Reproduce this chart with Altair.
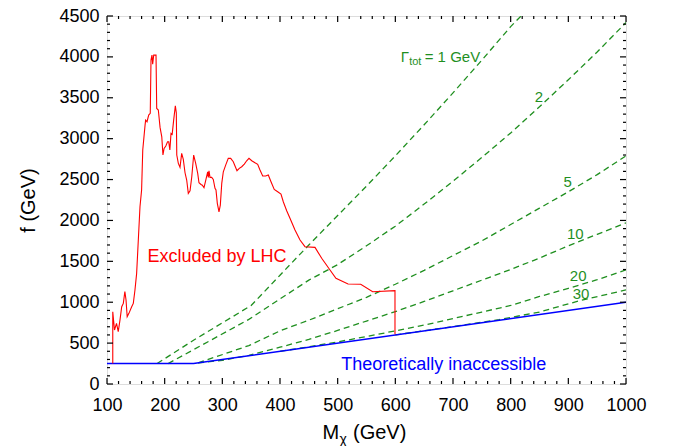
import altair as alt
import pandas as pd

# ---------------- data ----------------
# LHC exclusion contour (red)
red_M = [110, 110, 113, 116.5, 119.5, 122.5, 125.5, 128.3, 131, 133, 135, 138, 142.8, 145.6, 148.5,
         151.4, 154.3, 157.2, 160, 162, 166, 167, 169.4, 172.3, 175, 176.3, 178, 179.2, 181, 185,
         186.2, 189, 192, 195, 197, 199, 202, 205, 207, 209, 211, 213, 215.6, 218.5, 220.2, 221,
         223.7, 226.6, 229.5, 232.3, 235.3, 238.2, 241, 244, 247, 250.3, 253.8, 257.3, 259.5, 263,
         265.3, 268.2, 271, 274.6, 275.7, 276.9, 278.6, 281.5, 284.3, 287.3, 289, 291.3, 294.2,
         296.5, 299, 301.7, 305.8, 310.3, 314.5, 319, 322, 325.4, 329.4, 333.6, 338.1, 342.2,
         346.2, 351, 356.6, 361.3, 365.3, 370, 375.2, 379.7, 384.4, 390, 396, 401.7, 405.7, 411.6,
         417.3, 426, 434.7, 443.3, 460.7, 472.3, 486.7, 497, 518, 540, 560.7, 599.4, 599.4]
red_f = [250, 884, 660, 742, 640, 782, 945, 986, 1129, 1027, 823, 864, 945, 986, 1149,
         1353, 1760, 2167, 2372, 2861, 3166, 3227, 3207, 3289, 3309, 3961, 4022, 3912, 4022, 4022,
         3370, 3350, 3138, 3023, 2800, 2881, 2910, 2962, 2962, 2861, 3065, 3053, 3227, 3402, 3316, 2800,
         2698, 2649, 2820, 2747, 2583, 2494, 2331, 2363, 2534, 2800, 2698, 2576, 2461, 2440,
         2430, 2400, 2485, 2595, 2527, 2608, 2527, 2527, 2502, 2392, 2372, 2209, 2106,
         2188, 2453, 2595, 2677, 2759, 2759, 2718, 2665, 2608, 2637, 2657, 2689, 2730,
         2759, 2730, 2705, 2686, 2616, 2543, 2543, 2555, 2473, 2380, 2351, 2323, 2229, 2119,
         2026, 1883, 1760, 1679, 1671, 1537, 1394, 1292, 1222, 1219, 1128, 1141, 608]

# theoretical limit (blue)
blue_M = [100, 250, 1000]
blue_f = [250, 250, 1000]

# constant total-width contours (green dashed)
g1_M = [187, 250, 350, 400, 450, 500, 550, 600, 650, 700, 750, 800, 818]
g1_f = [250, 535, 960, 1330, 1700, 2060, 2420, 2790, 3170, 3560, 3960, 4370, 4500]
g2_M = [206, 346, 400, 450, 500, 550, 600, 650, 700, 750, 800, 850, 900, 950, 1000]
g2_f = [250, 790, 1040, 1270, 1460, 1690, 1930, 2200, 2480, 2770, 3070, 3390, 3720, 4060, 4420]
g5_M = [258, 346, 400, 450, 500, 550, 600, 650, 700, 750, 800, 850, 900, 950, 1000]
g5_f = [258, 470, 650, 780, 920, 1060, 1220, 1390, 1570, 1750, 1950, 2150, 2350, 2560, 2790]
g10_M = [258, 300, 346, 400, 450, 500, 550, 600, 650, 700, 750, 800, 850, 900, 950, 1000]
g10_f = [258, 290, 350, 450, 545, 655, 770, 885, 1010, 1140, 1270, 1400, 1540, 1690, 1830, 1970]
g20_M = [400, 450, 500, 550, 600, 650, 700, 750, 800, 850, 900, 950, 1000]
g20_f = [400, 455, 515, 580, 650, 720, 800, 880, 960, 1070, 1170, 1275, 1395]
g30_M = [600, 700, 780, 850, 920, 1000]
g30_f = [600, 702, 787, 880, 1020, 1150]

green_labels = ["2", "5", "10", "20", "30"]
green_label_M = [849, 899, 912, 917, 922]
green_label_f = [3451, 2412, 1769, 1263, 1035]

region_labels = ["Excluded by LHC", "Theoretically inaccessible"]
region_label_M = [290.7, 684]
region_label_f = [1495, 171]
region_colors = ["#ff0000", "#0000ff"]

x_major = list(range(100, 1001, 100))
x_minor = [v for v in range(100, 1001, 20) if v % 100 != 0]
y_major = list(range(0, 4501, 500))
y_minor = [v for v in range(0, 4501, 100) if v % 500 != 0]

# ---------------- layout ----------------
W, H = 519, 368
FONT = "Liberation Sans"
GREEN = "#1f8f1f"

xs = alt.Scale(domain=[100, 1000], nice=False, zero=False)
ys = alt.Scale(domain=[0, 4500], nice=False, zero=False)

x_axis = alt.Axis(values=x_major, format="d", labelFont=FONT, labelFontSize=18, labelColor="black",
                  ticks=False, domain=False, grid=False, title=None, labelPadding=12,
                  labelFlush=False)
y_axis = alt.Axis(values=y_major, format="d", labelFont=FONT, labelFontSize=18, labelColor="black",
                  ticks=False, domain=False, grid=False, title="f (GeV)", titleFont=FONT,
                  titleFontSize=20, titleFontWeight="normal", titleColor="black", titlePadding=20,
                  labelPadding=8, labelFlush=False)


def X(field="M"):
    return alt.X(f"{field}:Q", scale=xs, axis=x_axis)


def Y(field="f"):
    return alt.Y(f"{field}:Q", scale=ys, axis=y_axis)


red_df = pd.DataFrame({"M": red_M, "f": red_f, "i": range(len(red_M))})
blue_df = pd.DataFrame({"M": blue_M, "f": blue_f, "i": range(len(blue_M))})
green_frames = []
for name, Ms, fs in [("1", g1_M, g1_f), ("2", g2_M, g2_f), ("5", g5_M, g5_f),
                     ("10", g10_M, g10_f), ("20", g20_M, g20_f), ("30", g30_M, g30_f)]:
    green_frames.append(pd.DataFrame({"M": Ms, "f": fs, "G": name, "i": range(len(Ms))}))
green_df = pd.concat(green_frames, ignore_index=True)

green = alt.Chart(green_df).mark_line(color=GREEN, strokeWidth=1.3, strokeDash=[6, 4], clip=True).encode(
    x=X(), y=Y(), detail="G:N", order="i:Q")
blue = alt.Chart(blue_df).mark_line(color="#0000ff", strokeWidth=1.4, clip=True).encode(
    x=X(), y=Y(), order="i:Q")
red = alt.Chart(red_df).mark_line(color="#ff0000", strokeWidth=1.1, clip=True).encode(
    x=X(), y=Y(), order="i:Q")


# inward ticks on all four sides
def xticks(vals, length):
    d = pd.DataFrame({"M": vals})
    bot = alt.Chart(d).mark_rule(color="black", strokeWidth=1.2).encode(
        x=X(), y=alt.value(H), y2=alt.value(H - length))
    top = alt.Chart(d).mark_rule(color="black", strokeWidth=1.2).encode(
        x=X(), y=alt.value(0), y2=alt.value(length))
    return [bot, top]


def yticks(vals, length):
    d = pd.DataFrame({"f": vals})
    left = alt.Chart(d).mark_rule(color="black", strokeWidth=1.2).encode(
        y=Y(), x=alt.value(0), x2=alt.value(length))
    right = alt.Chart(d).mark_rule(color="black", strokeWidth=1.2).encode(
        y=Y(), x=alt.value(W), x2=alt.value(W - length))
    return [left, right]


ticks = xticks(x_major, 6) + xticks(x_minor, 3) + yticks(y_major, 6) + yticks(y_minor, 3)

# annotations
glab_df = pd.DataFrame({"t": green_labels, "M": green_label_M, "f": green_label_f})
glab = alt.Chart(glab_df).mark_text(font=FONT, fontSize=15, color=GREEN, align="center",
                                     baseline="alphabetic").encode(x=X(), y=Y(), text="t:N")

rlab_df = pd.DataFrame({"t": region_labels, "M": region_label_M, "f": region_label_f,
                        "c": region_colors})
rlab = alt.Chart(rlab_df).mark_text(font=FONT, fontSize=18, align="center",
                                     baseline="alphabetic").encode(
    x=X(), y=Y(), text="t:N", color=alt.Color("c:N", scale=None))

gamma_parts = ["Γ", "tot", "= 1 GeV"]
gamma_df = pd.DataFrame({"M": [609.3], "f": [3933]})
gam1 = alt.Chart(gamma_df).mark_text(text=gamma_parts[0], font=FONT, fontSize=15, color=GREEN,
                                     align="left", baseline="alphabetic").encode(x=X(), y=Y())
gam2 = alt.Chart(gamma_df).mark_text(text=gamma_parts[1], font=FONT, fontSize=11, color=GREEN,
                                     align="left", baseline="alphabetic", dx=8.5, dy=3).encode(x=X(), y=Y())
gam3 = alt.Chart(gamma_df).mark_text(text=gamma_parts[2], font=FONT, fontSize=15, color=GREEN,
                                     align="left", baseline="alphabetic", dx=24).encode(x=X(), y=Y())

# x-axis title with subscript chi
xt_df = pd.DataFrame({"k": [0]})
xt1 = alt.Chart(xt_df).mark_text(text="M", font=FONT, fontSize=20, color="black",
                                 align="left", baseline="alphabetic").encode(
    x=alt.value(215.5), y=alt.value(423))
xt2 = alt.Chart(xt_df).mark_text(text="χ", font=FONT, fontSize=14, color="black",
                                 align="left", baseline="alphabetic").encode(
    x=alt.value(232.5), y=alt.value(428))
xt3 = alt.Chart(xt_df).mark_text(text="(GeV)", font=FONT, fontSize=20, color="black",
                                 align="left", baseline="alphabetic").encode(
    x=alt.value(246), y=alt.value(423))

chart = alt.layer(green, blue, red, *ticks, glab, rlab, gam1, gam2, gam3, xt1, xt2, xt3).properties(
    width=W, height=H,
    padding={"left": 107, "top": 16, "right": 51, "bottom": 62},
    autosize=alt.AutoSizeParams(type="none"),
).configure_view(stroke="black", strokeWidth=2).configure_axis(
    titleFontWeight="normal"
).configure(background="white")

chart.save("out.html", embed_options={"renderer": "svg", "actions": False})
